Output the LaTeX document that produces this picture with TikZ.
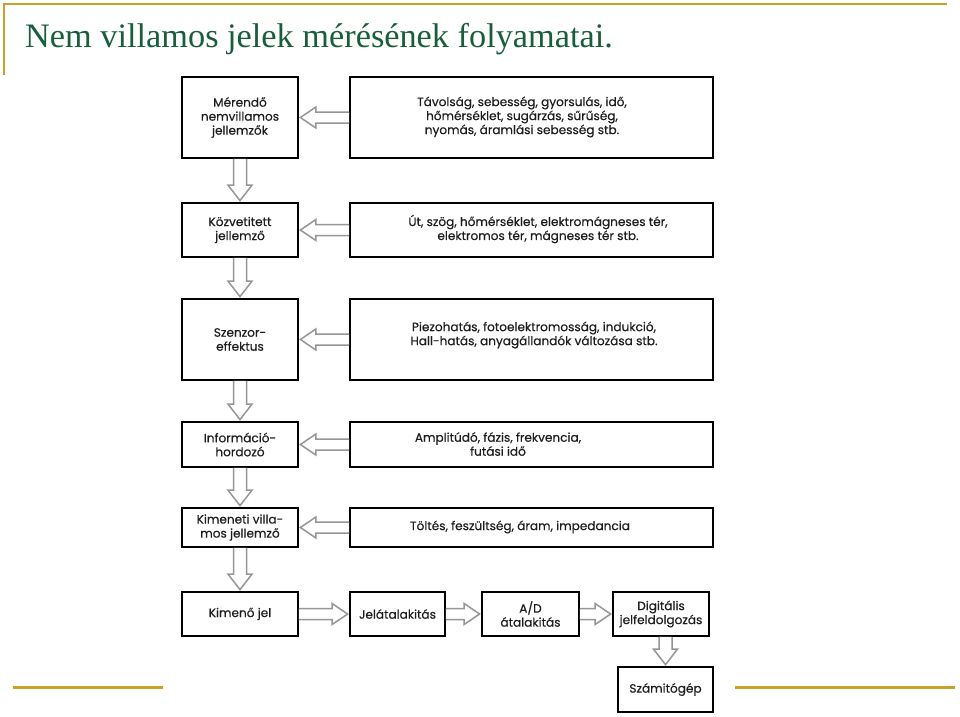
\documentclass[tikz,border=0pt]{standalone}
\usepackage{fontspec}
\setmainfont{Liberation Serif}
\newfontfamily\boxfont[FakeBold=0.4]{Poppins}
\usetikzlibrary{calc}
\definecolor{gold}{RGB}{201,162,39}
\definecolor{titlegreen}{RGB}{24,94,60}
\definecolor{arrowgray}{RGB}{150,150,150}
\definecolor{boxtext}{RGB}{30,30,30}
\tikzset{
  box/.style={draw=black, line width=1.8pt, inner sep=0pt, align=center,
    text=boxtext, font=\boxfont\fontsize{12.1}{14}\selectfont},
  txt/.style={inner sep=0pt, align=center, text=boxtext,
    font=\boxfont\fontsize{12.1}{14}\selectfont},
  blk/.style={draw=arrowgray, line width=1.5pt, fill=white, line join=miter},
  goldline/.style={draw=gold, line width=2.2pt}
}
% hollow block arrows between named anchors
\newcommand\leftarr[2]{\draw[blk] let \p1=#1, \p2=#2 in
  (\x1,\y1+5.5pt) -- (\x2+17pt,\y1+5.5pt) -- (\x2+17pt,\y1+10.5pt) -- (\x2+1.5pt,\y1)
  -- (\x2+17pt,\y1-10.5pt) -- (\x2+17pt,\y1-5.5pt) -- (\x1,\y1-5.5pt);}
\newcommand\rightarr[2]{\draw[blk] let \p1=#1, \p2=#2 in
  (\x1,\y1+5.5pt) -- (\x2-17pt,\y1+5.5pt) -- (\x2-17pt,\y1+10.5pt) -- (\x2-1.5pt,\y1)
  -- (\x2-17pt,\y1-10.5pt) -- (\x2-17pt,\y1-5.5pt) -- (\x1,\y1-5.5pt);}
\newcommand\downarr[2]{\draw[blk] let \p1=#1, \p2=#2 in
  (\x1-6.5pt,\y1) -- (\x1-6.5pt,\y2+17pt) -- (\x1-12pt,\y2+17pt) -- (\x1,\y2+1.5pt)
  -- (\x1+12pt,\y2+17pt) -- (\x1+6.5pt,\y2+17pt) -- (\x1+6.5pt,\y1);}
\begin{document}
\begin{tikzpicture}[x=1pt,y=-1pt]
\useasboundingbox (0,0) rectangle (960,716);
\fill[white] (0,0) rectangle (960,716);
% decorative lines
\draw[goldline] (3,4) -- (947,4);
\draw[goldline] (4,4) -- (4,75);
\draw[draw=gold, line width=3pt] (13,687) coordinate (gl1) -- (163,687) coordinate (gl2);
\draw[draw=gold, line width=3pt] (735,687) coordinate (gr1) -- (955,687) coordinate (gr2);
% title
\node[anchor=base west, inner sep=0pt, text=titlegreen,
  font=\fontsize{34.3}{40}\selectfont] (title) at (25,47) {Nem villamos jelek mérésének folyamatai.};
% left column
\node[box, minimum width=116pt, minimum height=81pt] (a) at (240,117.5) {Mérendő\\nemvillamos\\jellemzők};
\node[box, minimum width=116pt, minimum height=54pt] (b) at (240,230) {Közvetitett\\jellemző};
\node[box, minimum width=116pt, minimum height=81pt] (c) at (240,339.5) {Szenzor-\\effektus};
\node[box, minimum width=116pt, minimum height=45pt] (d) at (240,444.5) {Információ-\\hordozó};
\node[box, minimum width=116pt, minimum height=39pt] (e) at (240,527.5) {Kimeneti villa-\\mos jellemző};
\node[box, minimum width=116pt, minimum height=44pt] (f) at (240,614) {Kimenő jel};
% right column
\node[box, minimum width=363pt, minimum height=81pt] (r1) at (531.5,117.5) {};
\node[box, minimum width=363pt, minimum height=54pt] (r2) at (531.5,230) {};
\node[box, minimum width=363pt, minimum height=81pt] (r3) at (531.5,339.5) {};
\node[box, minimum width=363pt, minimum height=45pt] (r4) at (531.5,444.5) {};
\node[box, minimum width=363pt, minimum height=39pt] (r5) at (531.5,527.5) {};
\node[txt] (t1) at (522,117) {Távolság, sebesség, gyorsulás, idő,\\hőmérséklet, sugárzás, sűrűség,\\nyomás, áramlási sebesség stb.};
\node[txt] (t2) at (538,229) {Út, szög, hőmérséklet, elektromágneses tér,\\elektromos tér, mágneses tér stb.};
\node[txt] (t3) at (534,335) {Piezohatás, fotoelektromosság, indukció,\\Hall-hatás, anyagállandók változása stb.};
\node[txt] (t4) at (498,444) {Amplitúdó, fázis, frekvencia,\\futási idő};
\node[txt] (t5) at (520,527) {Töltés, feszültség, áram, impedancia};
% bottom row
\node[box, minimum width=95pt, minimum height=44pt] (g) at (397.5,614) {Jelátalakitás};
\node[box, minimum width=97pt, minimum height=44pt] (h) at (530.5,614) {A/D\\átalakitás};
\node[box, minimum width=96pt, minimum height=44pt] (i) at (661,614) {Digitális\\jelfeldolgozás};
\node[box, minimum width=95pt, minimum height=45pt] (j) at (665.5,689.5) {Számitógép};
% arrows
\leftarr{(r1.west)}{(a.east)}
\leftarr{(r2.west)}{(b.east)}
\leftarr{(r3.west)}{(c.east)}
\leftarr{(r4.west)}{(d.east)}
\leftarr{(r5.west)}{(e.east)}
\downarr{(a.south)}{(b.north)}
\downarr{(b.south)}{(c.north)}
\downarr{(c.south)}{(d.north)}
\downarr{(d.south)}{(e.north)}
\downarr{(e.south)}{(f.north)}
\rightarr{(f.east)}{(g.west)}
\rightarr{(g.east)}{(h.west)}
\rightarr{(h.east)}{(i.west)}
\downarr{(j.north |- i.south)}{(j.north)}
\end{tikzpicture}
\end{document}
